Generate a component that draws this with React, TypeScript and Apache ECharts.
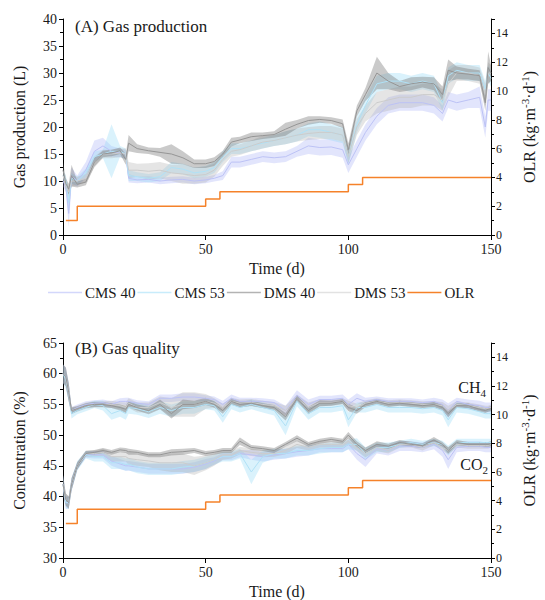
import React, { useEffect, useRef } from 'react';
import * as echarts from 'echarts';

const FONT = '"Liberation Serif", "Times New Roman", Times, serif';
const TXT = '#1a1a1a';

// sampling days (d)
const days = [0, 1, 2, 3, 5, 8, 11, 14, 17, 20,
  22, 23, 26, 30, 34, 38, 42, 46, 50, 53,
  56, 59, 62, 66, 70, 74, 78, 82, 86, 90,
  94, 98, 100, 103, 106, 110, 114, 118, 122, 126,
  130, 133, 135, 138, 142, 146, 148, 149, 150];

// (A) Gas production (L): mean and SD
const gasCMS40 = [10, 9, 4, 11, 10, 12, 15.5, 16.5, 15.5, 15.2,
  15, 10.5, 10.2, 10.3, 10, 10.2, 10.3, 10, 10.2, 10.5,
  11, 13.5, 13.5, 14, 14.5, 14.3, 14.5, 15.5, 16.5, 16.2,
  16.3, 15.8, 13, 16, 19, 22, 24, 24.5, 24.5, 24.5,
  24, 22.5, 25, 24.5, 25, 25.5, 20, 25, 25];
const gasCMS40sd = [1, 1, 2.5, 1.5, 1, 1.5, 2, 1.5, 1, 0.8,
  0.8, 0.8, 0.6, 0.6, 0.6, 0.6, 0.6, 0.6, 0.6, 0.6,
  0.8, 1, 1, 1, 1, 1, 1, 1, 1.5, 1.5,
  1.5, 1.5, 1.5, 1.5, 1.5, 1.5, 1.5, 1.5, 1.5, 1.5,
  1.5, 1.5, 1.5, 1.5, 1.5, 2, 2, 2, 2];
const gasCMS53 = [11, 10, 6, 10.5, 10, 11.5, 14.5, 15, 15.5, 15.5,
  15, 11, 10.8, 10.5, 10.8, 12.5, 12.2, 11.5, 11.8, 12.5,
  14.5, 16, 16, 16.5, 17, 17.5, 18, 18.5, 19.5, 19.5,
  19, 18.5, 14.5, 20.5, 24, 28, 28.5, 28.5, 28, 28.5,
  28, 24.5, 29.5, 30.5, 30, 30, 27, 30, 29];
const gasCMS53sd = [1, 1, 2, 1, 0.8, 0.8, 1, 0.8, 5, 1,
  1, 1, 0.8, 0.8, 0.8, 1, 1, 1, 1, 1,
  1, 1, 1, 1, 1, 1, 1.2, 1.2, 1.2, 1.5,
  1.5, 1.5, 1.5, 1.5, 1.5, 1.5, 1.5, 1.5, 1.5, 1.5,
  1.5, 1.5, 1.5, 1.5, 1.5, 1.5, 1.5, 1.5, 1.5];
const gasDMS40 = [12, 9.5, 8.5, 11, 9.4, 9.8, 13.5, 15, 15.2, 15.6,
  14, 17, 16, 15.6, 15.3, 15, 14.3, 13.2, 13.2, 13.6,
  15, 17.2, 17.6, 18.2, 18.4, 18.6, 19.6, 20.5, 21.2, 21.4,
  21.2, 20.6, 15.8, 23, 26, 30, 28.5, 27.5, 28, 28.3,
  28, 26, 30.5, 30, 29.8, 29.5, 24.5, 31, 30];
const gasDMS40sd = [1.5, 1, 1, 2, 0.6, 0.6, 0.8, 0.6, 0.6, 0.6,
  1, 1.5, 0.8, 0.6, 0.8, 1.8, 1.2, 0.8, 0.8, 0.8,
  0.6, 0.8, 0.6, 0.8, 0.6, 0.6, 1.2, 0.8, 0.8, 0.6,
  0.6, 0.8, 1.2, 1, 1.2, 3, 1.5, 1, 1.2, 1,
  1.2, 1.5, 2, 1.2, 1, 1, 1.5, 3, 1.5];
const gasDMS53 = [11, 9, 8, 10, 10, 10.5, 13.5, 15, 15, 15.2,
  15, 12, 12, 11.8, 12, 11.5, 11.3, 11, 11.2, 12,
  14, 15.5, 15.8, 16.5, 17.2, 17.5, 18, 18.5, 18.8, 19,
  19, 18.5, 14.5, 20, 22.5, 24.5, 25, 25.5, 25.5, 26,
  26, 25, 28, 30, 30, 29.5, 26, 30, 30];
const gasDMS53sd = [1, 1, 1, 1, 0.8, 0.8, 1, 0.8, 0.8, 0.8,
  1, 1.5, 1.2, 1.5, 1.5, 1.5, 1.8, 1.5, 1.5, 1.2,
  1.2, 1, 1, 1, 1.2, 1, 1.2, 1.2, 1.2, 1.2,
  1.2, 1.2, 1.2, 1.5, 1.5, 2, 2, 2, 2, 2,
  2, 2, 2.5, 1.5, 1.5, 1.5, 2, 2, 1.5];

// (B) CH4 (%)
const ch4CMS40 = [60, 59.5, 57, 54, 54.5, 55, 55.2, 55.3, 55, 55.5,
  55.5, 55.5, 55.2, 55, 56, 56, 56.2, 56.2, 56, 55.8,
  55, 56, 55.5, 55.5, 55.5, 55.3, 54, 56.5, 55, 55.8,
  55.8, 56, 55, 56, 55.5, 55.8, 55.5, 55.5, 55.5, 55.3,
  55.5, 55, 54, 55.5, 55, 54.8, 54.5, 54.5, 54.5];
const ch4CMS40sd = [1.5, 1.5, 1.5, 0.6, 0.5, 0.5, 0.5, 0.5, 0.5, 0.5,
  0.6, 0.6, 0.5, 0.5, 0.6, 0.6, 0.6, 0.6, 0.5, 0.5,
  0.6, 0.6, 0.6, 0.6, 0.5, 0.5, 0.8, 0.8, 0.8, 0.6,
  0.6, 0.6, 0.8, 0.8, 0.6, 0.5, 0.5, 0.5, 0.5, 0.5,
  0.6, 0.8, 1.2, 0.6, 0.8, 0.8, 0.8, 0.8, 0.8];
const ch4CMS53 = [60, 59, 57, 53.5, 54, 54.5, 55, 54.8, 53.5, 54,
  53.5, 54.5, 54.3, 53.8, 54.5, 54, 54.5, 54.5, 55, 54.8,
  53, 55, 54.5, 55, 54.5, 54, 51.5, 55.5, 53.5, 54.5,
  54.5, 54.8, 52.5, 54.5, 54.5, 55, 54.5, 54.5, 54.5, 54.3,
  54.5, 54, 52.5, 54.5, 54.3, 53.8, 53.5, 53.5, 53.5];
const ch4CMS53sd = [1.5, 1.5, 1.5, 0.8, 0.6, 0.6, 0.6, 0.8, 1, 1,
  1, 1, 1, 1, 1, 1, 1, 1, 0.8, 0.8,
  1, 0.8, 0.8, 0.8, 0.8, 0.8, 1.5, 0.8, 1, 0.8,
  0.8, 0.8, 1.2, 0.8, 0.8, 0.8, 0.8, 0.8, 0.8, 0.8,
  0.8, 0.8, 1.2, 0.8, 0.8, 0.8, 0.8, 0.8, 0.8];
const ch4DMS40 = [60, 59.5, 57, 54, 54.3, 54.8, 55, 55, 54.8, 54.5,
  54.2, 55, 54.5, 54, 55, 53.5, 55, 55, 55.5, 55,
  54, 55.5, 55, 55.2, 54.8, 54.5, 53, 56, 54, 55.2,
  55.2, 55.5, 54.5, 54, 55, 55.5, 55, 55.2, 55, 54.8,
  55, 54.5, 53.5, 54.8, 54.8, 54.2, 54, 54.2, 54.3];
const ch4DMS40sd = [1.5, 1.5, 1.5, 0.5, 0.4, 0.4, 0.4, 0.4, 0.4, 0.5,
  0.6, 0.5, 0.5, 0.6, 0.8, 0.8, 0.8, 0.6, 0.6, 0.5,
  0.5, 0.5, 0.5, 0.4, 0.4, 0.4, 0.6, 0.5, 0.6, 0.5,
  0.4, 0.4, 0.6, 0.5, 0.4, 0.4, 0.4, 0.4, 0.4, 0.4,
  0.4, 0.5, 0.6, 0.4, 0.4, 0.4, 0.4, 0.4, 0.4];
const ch4DMS53 = [60, 59.5, 57, 54, 54.3, 54.8, 55, 55, 55, 54.8,
  54.5, 55.2, 54.5, 54.5, 55.3, 54.5, 55, 55, 55.5, 55.2,
  54.5, 55.5, 55.2, 55.3, 55, 54.8, 54, 56, 54.5, 55.3,
  55.3, 55.5, 54.8, 54.5, 55.2, 55.5, 55.2, 55.3, 55.2, 55,
  55, 54.8, 54, 55, 54.8, 54.5, 54.3, 54.3, 54.5];
const ch4DMS53sd = [1.5, 1.5, 1.5, 0.6, 0.5, 0.5, 0.5, 0.5, 0.6, 0.6,
  0.8, 0.8, 0.8, 0.8, 1, 1.5, 2, 2, 1.2, 0.8,
  0.6, 0.6, 0.6, 0.6, 0.6, 0.6, 0.8, 0.6, 0.8, 0.6,
  0.5, 0.5, 0.8, 0.6, 0.5, 0.5, 0.5, 0.5, 0.5, 0.5,
  0.5, 0.6, 0.8, 0.5, 0.5, 0.5, 0.5, 0.5, 0.5];

// (B) CO2 (%)
const co2CMS40 = [42, 39, 39, 42, 45, 46.8, 46.8, 46.8, 45.8, 45.3,
  45, 45, 44.8, 44.5, 44.5, 44.5, 44.5, 44.8, 45.3, 45.8,
  46.5, 46.5, 47, 46.8, 46.5, 46.8, 47, 47.3, 47.5, 47.8,
  47.8, 47.8, 48.5, 47, 46, 47.8, 47.5, 48.2, 48.2, 48,
  48.5, 47.5, 46, 48, 48.2, 48.2, 48, 48, 48];
const co2CMS40sd = [1.5, 1, 1, 1, 0.6, 0.5, 0.6, 0.6, 0.8, 0.8,
  0.8, 0.8, 0.8, 0.8, 0.8, 0.8, 0.8, 0.8, 0.8, 0.6,
  0.6, 0.6, 0.6, 0.8, 0.8, 0.8, 0.8, 0.8, 0.8, 0.6,
  0.6, 0.6, 0.8, 1, 1.2, 0.8, 0.8, 0.8, 0.8, 0.8,
  0.8, 1, 1.5, 0.8, 0.8, 0.8, 0.8, 0.8, 0.8];
const co2CMS53 = [42, 39, 39, 42, 45, 46.8, 46.5, 46.5, 45.5, 45.5,
  45.2, 45.3, 44.8, 44.5, 44.5, 44.5, 44.8, 45, 45.5, 46,
  46.5, 46.5, 47, 44, 46.5, 47, 47, 47.5, 47.5, 47.8,
  48, 48, 48.5, 48.5, 47, 48, 48, 48.5, 48.8, 48.5,
  48.8, 48.5, 47.5, 48.8, 48.8, 48.8, 48.8, 48.8, 48.8];
const co2CMS53sd = [1.5, 1, 1, 1, 0.8, 0.6, 0.8, 0.8, 1, 1,
  1, 1, 1, 1, 1, 1, 1, 1, 1, 0.8,
  0.8, 0.8, 0.8, 2, 1, 0.8, 0.8, 0.8, 0.8, 0.8,
  0.8, 0.8, 0.8, 1, 1, 0.8, 0.8, 0.6, 0.6, 0.6,
  0.6, 0.6, 0.8, 0.6, 0.6, 0.6, 0.6, 0.6, 0.6];
const co2DMS40 = [42, 39.5, 39, 42, 45, 47, 47.2, 47.5, 47.2, 47.6,
  47.5, 47.3, 47.2, 46.8, 46.8, 47.2, 47.3, 47.5, 47, 47.2,
  47.5, 47.5, 49, 48, 47.8, 47.5, 48.5, 49.5, 48.5, 49,
  49.3, 49, 50, 48.5, 47.5, 48.5, 48.2, 48.8, 48.5, 48.3,
  49.2, 48.5, 47.5, 48.8, 48.5, 48.5, 48.5, 48.5, 48.6];
const co2DMS40sd = [1.5, 1, 1, 1, 0.6, 0.4, 0.4, 0.4, 0.4, 0.4,
  0.4, 0.5, 0.4, 0.4, 0.4, 0.5, 0.5, 0.4, 0.4, 0.4,
  0.4, 0.4, 0.6, 0.4, 0.4, 0.4, 0.4, 0.5, 0.4, 0.4,
  0.4, 0.4, 0.5, 0.5, 0.5, 0.5, 0.4, 0.4, 0.4, 0.4,
  0.5, 0.4, 0.5, 0.4, 0.4, 0.4, 0.4, 0.4, 0.4];
const co2DMS53 = [42, 39.5, 39, 42, 45, 47, 47, 47.2, 46.5, 46.5,
  46.5, 46.2, 46, 45.8, 45.5, 45.5, 45.5, 45, 45.5, 46,
  46.8, 46.8, 47.5, 47.2, 47, 47, 47.5, 48.5, 48, 48.5,
  48.5, 48.5, 49, 48, 47, 48, 47.5, 48.5, 48.5, 48,
  48.8, 48, 47.5, 48.5, 48.3, 48.3, 48.3, 48.3, 48.5];
const co2DMS53sd = [1.5, 1, 1, 1, 0.6, 0.5, 0.5, 0.6, 0.8, 0.8,
  0.8, 1, 1, 1, 1.2, 1.5, 1.5, 1.5, 1.2, 1,
  0.8, 0.6, 0.6, 0.6, 0.6, 0.5, 0.6, 0.6, 0.5, 0.5,
  0.5, 0.5, 0.6, 0.6, 0.6, 0.6, 0.5, 0.5, 0.5, 0.5,
  0.5, 0.5, 0.6, 0.5, 0.5, 0.5, 0.5, 0.5, 0.5];

// OLR (kg·m-3·d-1), step changes
const olrDays = [1, 5, 50, 55, 100, 105, 150];
const olrTop = [1, 2, 2.5, 3, 3.5, 4, 4];
const olrBottom = [2.4, 3.4, 3.9, 4.4, 4.9, 5.4, 5.4];

const names = ['CMS 40', 'CMS 53', 'DMS 40', 'DMS 53', 'OLR'];
const lineColors = ['#bcc2f5', '#b0e1f6', '#959595', '#cccccc', '#f5822a'];
const legendColors = ['#d3d7fb', '#c8ecfb', '#b3b3b3', '#e2e2e2', '#f5822a'];
const bandColors = ['rgba(150,160,245,0.28)', 'rgba(140,215,247,0.32)', 'rgba(115,115,115,0.38)', 'rgba(175,175,175,0.32)'];

const pair = (xs: number[], ys: number[]) => xs.map((x, i) => [x, ys[i]]);

function band(xi: number, yi: number, mean: number[], sd: number[], fill: string, z: number) {
  return {
    type: 'custom', xAxisIndex: xi, yAxisIndex: yi, silent: true, z,
    data: [[days[0], mean[0]]],
    renderItem: (_p: any, api: any) => {
      const up = days.map((d, i) => api.coord([d, mean[i] + (sd[i] ?? 0.5)]));
      const lo = days.map((d, i) => api.coord([d, mean[i] - (sd[i] ?? 0.5)])).reverse();
      return { type: 'polygon', shape: { points: up.concat(lo) }, style: { fill } };
    },
  };
}

function line(name: string, xi: number, yi: number, xs: number[], ys: number[], color: string, z: number, width = 1, step?: string) {
  return {
    type: 'line', name, xAxisIndex: xi, yAxisIndex: yi, data: pair(xs, ys),
    showSymbol: false, symbol: 'none', step: step || false, z,
    lineStyle: { color, width }, itemStyle: { color },
  };
}

const xAxis = (gi: number) => ({
  type: 'value', gridIndex: gi, min: 0, max: 150, interval: 50,
  name: 'Time (d)', nameLocation: 'middle', nameGap: 25,
  nameTextStyle: { fontFamily: FONT, fontSize: 16, color: TXT },
  axisLine: { show: true, onZero: false, lineStyle: { color: '#000', width: 1 } },
  axisTick: { show: true, length: 5, lineStyle: { color: '#000' } },
  axisLabel: { fontFamily: FONT, fontSize: 14, color: TXT, margin: 7 },
  splitLine: { show: false },
});

const leftY = (gi: number, min: number, max: number, name: string) => ({
  type: 'value', gridIndex: gi, position: 'left', min, max, interval: 5,
  name, nameLocation: 'middle', nameGap: 36, nameRotate: 90,
  nameTextStyle: { fontFamily: FONT, fontSize: 16, color: TXT },
  axisLine: { show: true, onZero: false, lineStyle: { color: '#000', width: 1 } },
  axisTick: { show: true, length: 4, lineStyle: { color: '#000' } },
  minorTick: { show: true, splitNumber: 2, length: 3, lineStyle: { color: '#000' } },
  axisLabel: { fontFamily: FONT, fontSize: 14, color: TXT, margin: 6 },
  splitLine: { show: false }, minorSplitLine: { show: false },
});

const rightY = (gi: number) => ({
  type: 'value', gridIndex: gi, position: 'right', min: 0, max: 15, interval: 2,
  name: '{a|OLR (kg·m}{s|-3}{a|·d}{s|-1}{a|)}', nameLocation: 'middle', nameGap: 28, nameRotate: 90,
  nameTextStyle: {
    rich: {
      a: { fontFamily: FONT, fontSize: 16, color: TXT, lineHeight: 20 },
      s: { fontFamily: FONT, fontSize: 11, color: TXT, lineHeight: 11, verticalAlign: 'top' },
    },
  },
  axisLine: { show: true, onZero: false, lineStyle: { color: '#000', width: 1 } },
  axisTick: { show: true, length: 4, lineStyle: { color: '#000' } },
  minorTick: { show: true, splitNumber: 2, length: 3, lineStyle: { color: '#000' } },
  axisLabel: { fontFamily: FONT, fontSize: 12, color: TXT, margin: 5, formatter: (v: number) => (v > 14 ? '' : String(v)) },
  splitLine: { show: false }, minorSplitLine: { show: false },
});

function buildOption() {
  const series: any[] = [];
  const gasM = [gasCMS40, gasCMS53, gasDMS53, gasDMS40];
  const gasS = [gasCMS40sd, gasCMS53sd, gasDMS53sd, gasDMS40sd];
  const ch4M = [ch4CMS40, ch4CMS53, ch4DMS53, ch4DMS40];
  const ch4S = [ch4CMS40sd, ch4CMS53sd, ch4DMS53sd, ch4DMS40sd];
  const co2M = [co2CMS40, co2CMS53, co2DMS53, co2DMS40];
  const co2S = [co2CMS40sd, co2CMS53sd, co2DMS53sd, co2DMS40sd];
  const order = [0, 1, 3, 2];
  order.forEach((ci, k) => {
    series.push(band(0, 0, gasM[k], gasS[k], bandColors[ci], 1 + k));
    series.push(band(1, 2, ch4M[k], ch4S[k], bandColors[ci], 1 + k));
    series.push(band(1, 2, co2M[k], co2S[k], bandColors[ci], 1 + k));
  });
  order.forEach((ci, k) => {
    series.push(line(names[ci], 0, 0, days, gasM[k], lineColors[ci], 6 + k));
    series.push(line(names[ci], 1, 2, days, ch4M[k], lineColors[ci], 6 + k));
    series.push(line(names[ci], 1, 2, days, co2M[k], lineColors[ci], 6 + k));
  });
  series.push(line('OLR', 0, 1, olrDays, olrTop, lineColors[4], 12, 1.5, 'end'));
  series.push(line('OLR', 1, 3, olrDays, olrBottom, lineColors[4], 12, 1.5, 'end'));

  return {
    animation: false,
    backgroundColor: '#fff',
    textStyle: { fontFamily: FONT },
    grid: [
      { left: 63, top: 19, width: 429, height: 216, containLabel: false },
      { left: 63, top: 343, width: 429, height: 215, containLabel: false },
    ],
    title: [
      { text: '(A) Gas production', left: 75, top: 18, padding: 0, textStyle: { fontFamily: FONT, fontSize: 17, fontWeight: 'normal', color: TXT } },
      { text: '(B) Gas quality', left: 75, top: 340, padding: 0, textStyle: { fontFamily: FONT, fontSize: 17, fontWeight: 'normal', color: TXT } },
    ],
    legend: {
      left: 48, top: 285, padding: 0, itemGap: 2, itemWidth: 34, itemHeight: 1.5, icon: 'rect',
      textStyle: { fontFamily: FONT, fontSize: 15, color: TXT, padding: [0, 0, 0, -2] },
      data: names.map((n, i) => ({ name: n, itemStyle: { color: legendColors[i] } })),
      selectedMode: false,
    },
    xAxis: [xAxis(0), xAxis(1)],
    yAxis: [
      leftY(0, 0, 40, 'Gas production (L)'),
      rightY(0),
      leftY(1, 30, 65, 'Concentration (%)'),
      rightY(1),
    ],
    graphic: [
      {
        type: 'text', x: 486, y: 387,
        style: {
          text: '{a|CH}{b|4}', align: 'right', verticalAlign: 'middle',
          rich: {
            a: { fontFamily: FONT, fontSize: 16, fill: TXT, lineHeight: 22 },
            b: { fontFamily: FONT, fontSize: 11, fill: TXT, lineHeight: 11, verticalAlign: 'bottom' },
          },
        },
      },
      {
        type: 'text', x: 488, y: 464,
        style: {
          text: '{a|CO}{b|2}', align: 'right', verticalAlign: 'middle',
          rich: {
            a: { fontFamily: FONT, fontSize: 16, fill: TXT, lineHeight: 22 },
            b: { fontFamily: FONT, fontSize: 11, fill: TXT, lineHeight: 11, verticalAlign: 'bottom' },
          },
        },
      },
    ],
    series,
  };
}

export default function App() {
  const ref = useRef<HTMLDivElement>(null);
  useEffect(() => {
    if (!ref.current) return;
    const chart = echarts.init(ref.current, null, { renderer: 'svg' });
    chart.setOption(buildOption() as any);
    return () => chart.dispose();
  }, []);
  return <div ref={ref} style={{ position: 'absolute', left: 0, top: 0, width: 545, height: 600, background: '#fff' }} />;
}
